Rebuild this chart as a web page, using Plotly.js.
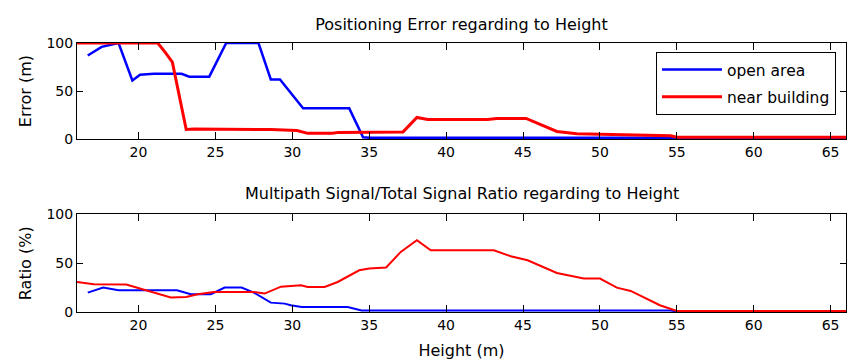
<!DOCTYPE html>
<html>
<head>
<meta charset="utf-8">
<script src="https://cdn.plot.ly/plotly-3.0.1.min.js"></script>
<style>
  html, body { margin: 0; padding: 0; background: #fff; }
  #chart { width: 849px; height: 364px; }
</style>
</head>
<body>
<div id="chart"></div>
<script>
// Positioning error (m) versus receiver height (m)
const errOpenHeight = [16.7, 17.6, 18.7, 19.6, 20.1, 21.0, 22.8, 23.3, 24.6, 25.7, 27.8, 28.6, 29.2, 30.7, 33.7, 34.6, 35.0, 54.6, 55.0, 66];
const errOpen       = [87, 96, 100, 61, 67, 68, 68, 65, 65, 100, 100, 62, 62, 32, 32, 2, 1.5, 1.5, 0.5, 0.5];

const errBuildHeight = [16.0, 21.25, 21.7, 22.2, 23.1, 23.6, 28.6, 30.3, 31.0, 32.6, 33.0, 36.6, 37.2, 38.1, 38.8, 42.7, 43.3, 45.2, 46.4, 47.2, 48.5, 53.6, 54.6, 55.0, 66];
const errBuild       = [100, 100, 91, 80, 10, 10.5, 10, 9, 6, 6, 7, 7, 7.5, 22.5, 20.5, 20.5, 21.5, 21.5, 13, 8, 5.5, 4.2, 3.5, 2, 2];

// Multipath / total signal ratio (%) versus height (m)
const ratioOpenHeight = [16.7, 17.7, 18.7, 22.5, 23.4, 24.7, 25.6, 26.7, 27.5, 28.6, 29.5, 29.9, 30.6, 33.6, 34.5, 54.6, 55.0, 66];
const ratioOpen       = [19.9, 25, 22.3, 22.3, 18.2, 18.2, 25, 25, 19.9, 9.6, 8.6, 6.9, 5.1, 5.1, 1.5, 1.5, 0.5, 0.5];

const ratioBuildHeight = [16.0, 17.1, 19.2, 20.1, 21.25, 22.1, 23.1, 23.85, 24.9, 27.5, 28.2, 29.26, 30.56, 31.0, 32.1, 32.95, 34.35, 35.0, 36.1, 37.05, 38.1, 39.0, 43.1, 44.2, 45.3, 47.2, 48.95, 50.0, 51.1, 52.0, 53.9, 54.7, 55.0, 66];
const ratioBuild       = [30.8, 28.4, 28.1, 24, 18.9, 14.8, 15.4, 18.2, 20.5, 20.5, 18.9, 26, 27.4, 25.7, 25.7, 30.8, 42.8, 44.5, 45.6, 61.6, 73.6, 63.3, 63.3, 57.2, 53, 40, 34.3, 34.3, 25, 21.6, 6.9, 2.4, 1, 1];

const xTicks = [20, 25, 30, 35, 40, 45, 50, 55, 60, 65];
const yTicks = [0, 50, 100];

const FONT = 'DejaVu Sans, Arial, sans-serif';
const BLUE = '#0000ff';
const RED = '#ff0000';

const traces = [
  { x: errOpenHeight, y: errOpen, name: 'open area', mode: 'lines', legendgroup: 'open',
    line: { color: BLUE, width: 2.5 }, xaxis: 'x', yaxis: 'y' },
  { x: errBuildHeight, y: errBuild, name: 'near building', mode: 'lines', legendgroup: 'build',
    line: { color: RED, width: 3 }, xaxis: 'x', yaxis: 'y' },
  { x: ratioOpenHeight, y: ratioOpen, name: 'open area', mode: 'lines', showlegend: false,
    legendgroup: 'open', line: { color: BLUE, width: 2 }, xaxis: 'x2', yaxis: 'y2' },
  { x: ratioBuildHeight, y: ratioBuild, name: 'near building', mode: 'lines', showlegend: false,
    legendgroup: 'build', line: { color: RED, width: 2 }, xaxis: 'x2', yaxis: 'y2' }
];

function xAxis(anchor, titleText) {
  const ax = {
    anchor: anchor, domain: [0, 1], range: [16, 66],
    tickmode: 'array', tickvals: xTicks,
    ticks: 'inside', ticklen: 7, tickcolor: '#000', tickwidth: 1,
    showline: true, linecolor: '#000', linewidth: 1, mirror: 'ticks',
    showgrid: false, zeroline: false,
    tickfont: { family: FONT, size: 14, color: '#000' }
  };
  if (titleText) {
    ax.title = { text: titleText, font: { family: FONT, size: 16, color: '#000' }, standoff: 13 };
  }
  return ax;
}

function yAxis(anchor, domain, titleText) {
  return {
    anchor: anchor, domain: domain, range: [0, 100],
    tickmode: 'array', tickvals: yTicks,
    ticks: 'inside', ticklen: 6, tickcolor: '#000', tickwidth: 1,
    showline: true, linecolor: '#000', linewidth: 1, mirror: 'ticks',
    showgrid: false, zeroline: false,
    tickfont: { family: FONT, size: 14, color: '#000' },
    title: { text: titleText, font: { family: FONT, size: 16, color: '#000' }, standoff: 10 }
  };
}

const layout = {
  width: 849, height: 364,
  margin: { l: 77, r: 3, t: 43, b: 52 },
  paper_bgcolor: '#fff', plot_bgcolor: '#fff',
  font: { family: FONT, color: '#000' },
  title: {
    text: 'Positioning Error regarding to Height',
    font: { family: FONT, size: 16, color: '#000' },
    x: 0.5, xref: 'paper', xanchor: 'center',
    y: 1 - 24 / 364, yref: 'container', yanchor: 'middle'
  },
  xaxis: xAxis('y', null),
  yaxis: yAxis('x', [0.6427, 1], 'Error (m)'),
  xaxis2: xAxis('y2', 'Height (m)'),
  yaxis2: yAxis('x2', [0, 0.3625], 'Ratio (%)'),
  annotations: [{
    text: 'Multipath Signal/Total Signal Ratio regarding to Height',
    xref: 'paper', yref: 'paper', x: 0.5, y: 0.4418,
    xanchor: 'center', yanchor: 'middle', showarrow: false,
    font: { family: FONT, size: 16, color: '#000' }
  }],
  showlegend: true,
  legend: {
    x: 0.987, xanchor: 'right', y: 0.9665, yanchor: 'top',
    bgcolor: '#fff', bordercolor: '#000', borderwidth: 1,
    font: { family: FONT, size: 15.5, color: '#000' },
    itemwidth: 60, tracegroupgap: 4
  }
};

Plotly.newPlot('chart', traces, layout, { displayModeBar: false, staticPlot: true });
</script>
</body>
</html>
